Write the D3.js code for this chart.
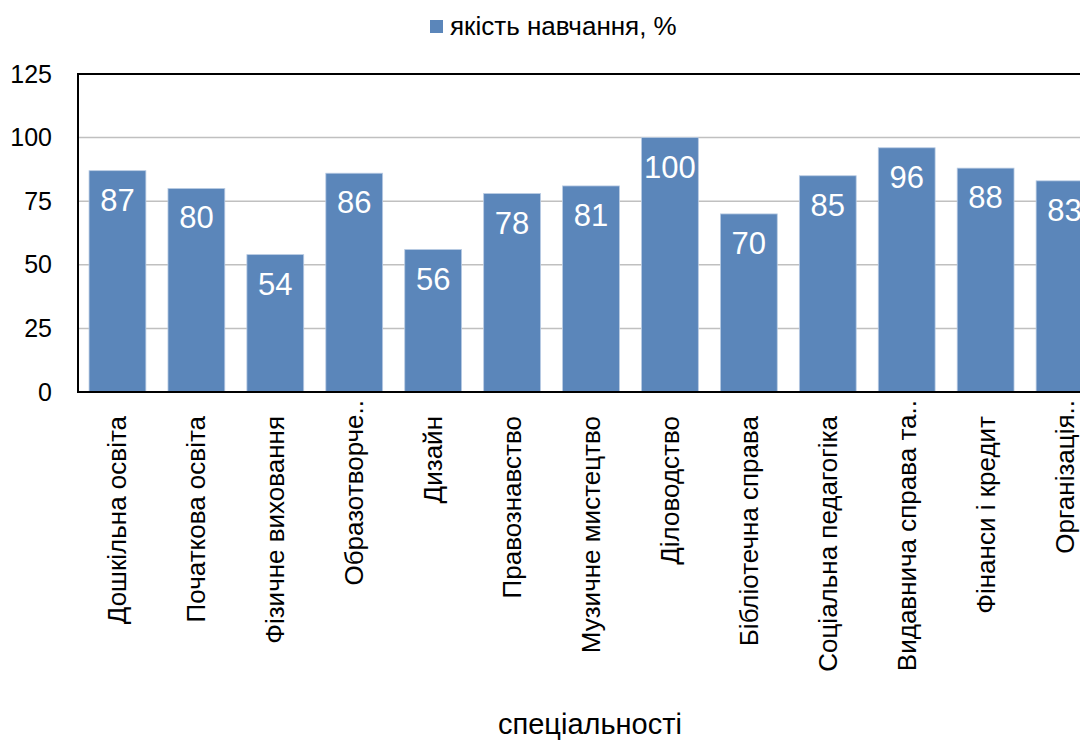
<!DOCTYPE html>
<html>
<head>
<meta charset="utf-8">
<script src="https://cdn.jsdelivr.net/npm/d3@7"></script>
<style>
  body { margin: 0; background: #fff; }
  text { font-family: "Liberation Sans", Arial, sans-serif; }
</style>
</head>
<body>
<div id="container"></div>
<script>
const categories = [
  'Дошкільна освіта', 'Початкова освіта', 'Фізичне виховання', 'Образотворче..',
  'Дизайн', 'Правознавство', 'Музичне мистецтво', 'Діловодство',
  'Бібліотечна справа', 'Соціальна педагогіка', 'Видавнича справа та..',
  'Фінанси і кредит', 'Організація..'
];
const values = [87, 80, 54, 86, 56, 78, 81, 100, 70, 85, 96, 88, 83];
const yTicks = [0, 25, 50, 75, 100, 125];
const seriesName = 'якість навчання, %';
const axisTitle = 'спеціальності';

const width = 1080, height = 740;
const plotLeft = 78, plotTop = 74, plotBottom = 392, plotRight = 1104;
const barColor = '#5b86ba';
const font = '"Liberation Sans", Arial, sans-serif';

const svg = d3.select('#container').append('svg')
  .attr('width', width)
  .attr('height', height);

const x = d3.scaleBand()
  .domain(categories)
  .range([plotLeft, plotRight])
  .paddingInner(0.28)
  .paddingOuter(0.14);

const y = d3.scaleLinear()
  .domain([0, 125])
  .range([plotBottom, plotTop]);

// gridlines
svg.append('g')
  .selectAll('line')
  .data(yTicks.filter(d => d > 0 && d < 125))
  .join('line')
  .attr('x1', plotLeft).attr('x2', plotRight)
  .attr('y1', d => y(d)).attr('y2', d => y(d))
  .attr('stroke', '#c0c0c0')
  .attr('stroke-width', 1.5);

// bars
svg.append('g')
  .selectAll('rect')
  .data(values)
  .join('rect')
  .attr('x', (d, i) => x(categories[i]))
  .attr('y', d => y(d))
  .attr('width', x.bandwidth())
  .attr('height', d => y(0) - y(d))
  .attr('fill', barColor)
  .attr('stroke', '#b9cbe3')
  .attr('stroke-width', 0.8);

// value labels
svg.append('g')
  .selectAll('text')
  .data(values)
  .join('text')
  .attr('x', (d, i) => x(categories[i]) + x.bandwidth() / 2)
  .attr('y', d => y(d) + 40)
  .attr('text-anchor', 'middle')
  .attr('fill', '#fff')
  .attr('font-size', 31)
  .text(d => d);

// plot frame
svg.append('path')
  .attr('d', `M${plotRight},${plotTop}H${plotLeft}V${plotBottom}H${plotRight}`)
  .attr('fill', 'none')
  .attr('stroke', '#000')
  .attr('stroke-width', 2);

// y axis
const yAxis = svg.append('g')
  .attr('transform', `translate(${plotLeft},0)`)
  .call(d3.axisLeft(y).tickValues(yTicks).tickSize(0).tickPadding(26));
yAxis.select('.domain').remove();
yAxis.selectAll('text')
  .attr('font-size', 25)
  .attr('fill', '#000')
  .attr('font-family', font);

// x labels
const xAxis = svg.append('g')
  .attr('transform', `translate(0,${plotBottom})`)
  .call(d3.axisBottom(x).tickSize(0).tickPadding(0));
xAxis.select('.domain').remove();
xAxis.selectAll('text')
  .attr('font-size', 26)
  .attr('fill', '#000')
  .attr('font-family', font)
  .attr('text-anchor', 'end')
  .attr('dy', null)
  .attr('transform', d => `translate(9,${d.endsWith('..') ? 8 : 24}) rotate(-90)`);

// axis title
svg.append('text')
  .attr('x', 590)
  .attr('y', 734)
  .attr('text-anchor', 'middle')
  .attr('font-size', 29)
  .text(axisTitle);

// legend
const lg = svg.append('g').attr('transform', 'translate(430,20)');
lg.append('rect')
  .attr('width', 13).attr('height', 13)
  .attr('fill', barColor);
lg.append('text')
  .attr('x', 20).attr('y', 15)
  .attr('font-size', 26)
  .text(seriesName);
</script>
</body>
</html>
